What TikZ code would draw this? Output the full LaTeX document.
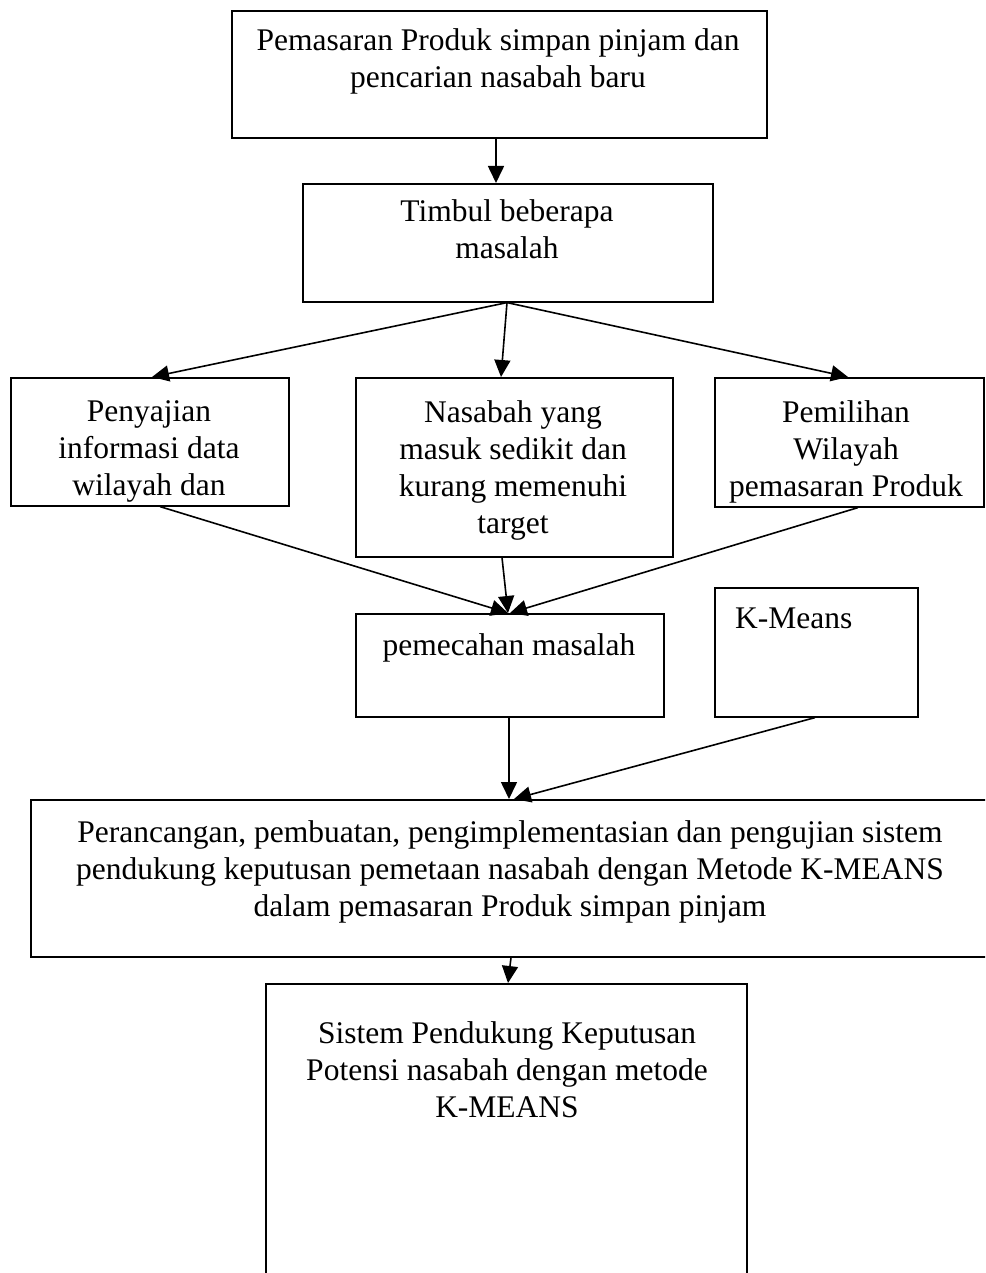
\documentclass[tikz,border=0pt]{standalone}
\usepackage{fontspec}
\setmainfont{Liberation Serif}
\usetikzlibrary{arrows.meta,calc}
\tikzset{
  box/.style={draw, line width=1.6pt, inner sep=0pt, anchor=north west},
  txt/.style={font=\fontsize{31.5}{37}\selectfont, align=center, inner sep=0pt, anchor=north},
  arr/.style={line width=1.6pt, -{Triangle[length=17pt,width=16pt]}}
}
\begin{document}
\begin{tikzpicture}[x=1pt,y=-1pt]
\useasboundingbox (0,0) rectangle (985,1273);
\clip (0,0) rectangle (985,1273);
% boxes
\node[box, minimum width=535pt, minimum height=127pt] (b1) at (231,10) {};
\node[box, minimum width=410pt, minimum height=118pt] (b2) at (302,183) {};
\node[box, minimum width=278pt, minimum height=128pt] (b3) at (10,377) {};
\node[box, minimum width=317pt, minimum height=179pt] (b4) at (355,377) {};
\node[box, minimum width=269pt, minimum height=129pt] (b5) at (714,377) {};
\node[box, minimum width=308pt, minimum height=103pt] (b6) at (355,613) {};
\node[box, minimum width=203pt, minimum height=129pt] (b7) at (714,587) {};
\node[box, minimum width=960pt, minimum height=157pt] (b8) at (30,799) {};
\node[box, minimum width=481pt, minimum height=320pt] (b9) at (265,983) {};
% texts
\node[txt] (t1) at (498,28.5) {Pemasaran Produk simpan pinjam dan\\pencarian nasabah baru};
\node[txt] (t2) at (507,199.5) {Timbul beberapa\\masalah};
\node[txt] (t3) at (149,400.5) {Penyajian\\informasi data\\wilayah dan};
\node[txt] (t4) at (513,400.5) {Nasabah yang\\masuk sedikit dan\\kurang memenuhi\\target};
\node[txt] (t5) at (846,400.5) {Pemilihan\\Wilayah\\pemasaran Produk};
\node[txt] (t6) at (509,633.5) {pemecahan masalah};
\node[txt, anchor=north west, align=left] (t7) at (735,608) {K-Means};
\node[txt] (t8) at (510,820.5) {Perancangan, pembuatan, pengimplementasian dan pengujian sistem\\pendukung keputusan pemetaan nasabah dengan Metode K-MEANS\\dalam pemasaran Produk simpan pinjam};
\node[txt] (t9) at (507,1021.5) {Sistem Pendukung Keputusan\\Potensi nasabah dengan metode\\K-MEANS};
% arrows
\draw[arr] ($(b1.south west)+(265,0)$) -- ($(b2.north west)+(194,0)$);
\draw[arr] ($(b2.south west)+(205,0)$) -- ($(b3.north west)+(142,0)$);
\draw[arr] ($(b2.south west)+(205,0)$) -- ($(b4.north west)+(146,0)$);
\draw[arr] ($(b2.south west)+(205,0)$) -- ($(b5.north west)+(134,0)$);
\draw[arr] ($(b3.south west)+(150,0)$) -- ($(b6.north west)+(153,0)$);
\draw[arr] ($(b4.south west)+(147,0)$) -- ($(b6.north west)+(153,0)$);
\draw[arr] ($(b5.south west)+(144,0)$) -- ($(b6.north west)+(155,0)$);
\draw[arr] ($(b6.south west)+(154,0)$) -- ($(b8.north west)+(479,0)$);
\draw[arr] ($(b7.south west)+(101,0)$) -- ($(b8.north west)+(484,0)$);
\draw[arr] ($(b8.south west)+(481,0)$) -- ($(b9.north west)+(243,0)$);
\end{tikzpicture}
\end{document}
